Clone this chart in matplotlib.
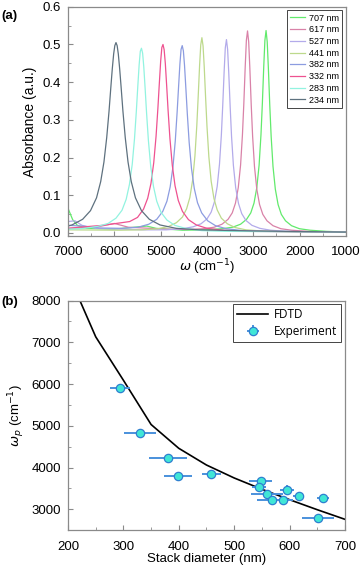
import numpy as np
import matplotlib
matplotlib.use('Agg')
import matplotlib.pyplot as plt
from matplotlib.ticker import MultipleLocator

# (a) absorbance spectra, wavenumber (cm-1) / absorbance
labels = ['707 nm', '617 nm', '527 nm', '441 nm', '382 nm', '332 nm', '283 nm', '234 nm']
colors = ['#62ea6c', '#d982a8', '#b3abea', '#bdd98c', '#8c9ce0', '#ee5290', '#92f3e0', '#5e717f']

w707 = [7000, 6900, 6800, 6600, 6000, 5300, 5100,
        4525, 4025, 3675, 3445, 3275, 3145, 3055, 2985, 2925, 2875, 2835, 2805, 2775, 2750,
        2725, 2700, 2675, 2645, 2615, 2575, 2525, 2465, 2395, 2305, 2175, 2005, 1775, 1425, 1000]
a707 = [0.065, 0.035, 0.020, 0.012, 0.010, 0.018, 0.012,
        0.007, 0.008, 0.011, 0.015, 0.023, 0.036, 0.053, 0.079, 0.120, 0.180, 0.260, 0.343, 0.441, 0.511,
        0.537, 0.507, 0.437, 0.339, 0.256, 0.176, 0.116, 0.075, 0.049, 0.032, 0.019, 0.011, 0.007, 0.004, 0.002]

w617 = [7000, 6400, 6000, 5700,
        4925, 4425, 4075, 3845, 3675, 3545, 3455, 3385, 3325, 3275, 3235, 3205, 3175, 3150,
        3125, 3100, 3075, 3045, 3015, 2975, 2925, 2865, 2795, 2705, 2575, 2405, 2175, 1825, 1325, 1000]
a617 = [0.012, 0.015, 0.025, 0.015,
        0.010, 0.009, 0.011, 0.015, 0.023, 0.036, 0.053, 0.079, 0.120, 0.180, 0.260, 0.343, 0.441, 0.511,
        0.536, 0.507, 0.437, 0.339, 0.256, 0.176, 0.116, 0.075, 0.049, 0.032, 0.019, 0.011, 0.007, 0.004, 0.002, 0.002]

w527 = [7000, 6850, 6700, 6400,
        5380, 4880, 4530, 4300, 4130, 4000, 3910, 3840, 3780, 3730, 3690, 3660, 3630, 3605,
        3580, 3555, 3530, 3500, 3470, 3430, 3380, 3320, 3250, 3160, 3030, 2860, 2630, 2280, 1780, 1000]
a527 = [0.030, 0.032, 0.020, 0.012,
        0.008, 0.008, 0.011, 0.016, 0.024, 0.037, 0.055, 0.082, 0.123, 0.183, 0.260, 0.339, 0.428, 0.491,
        0.513, 0.487, 0.424, 0.335, 0.256, 0.179, 0.119, 0.078, 0.051, 0.033, 0.020, 0.012, 0.007, 0.004, 0.002, 0.002]

w441 = [7000,
        5910, 5410, 5060, 4830, 4660, 4530, 4440, 4370, 4310, 4260, 4220, 4190, 4160, 4135,
        4110, 4085, 4060, 4030, 4000, 3960, 3910, 3850, 3780, 3690, 3560, 3390, 3160, 2810, 2310, 1000]
a441 = [0.008,
        0.007, 0.008, 0.011, 0.017, 0.027, 0.042, 0.064, 0.094, 0.140, 0.205, 0.285, 0.362, 0.444, 0.499,
        0.518, 0.496, 0.441, 0.359, 0.282, 0.202, 0.137, 0.091, 0.061, 0.039, 0.024, 0.014, 0.008, 0.005, 0.003, 0.002]

w382 = [7000, 6700,
        6335, 5835, 5485, 5255, 5085, 4955, 4865, 4795, 4735, 4685, 4645, 4615, 4585, 4560,
        4535, 4510, 4485, 4455, 4425, 4385, 4335, 4275, 4205, 4115, 3985, 3815, 3585, 3235, 2735, 1000]
a382 = [0.020, 0.018,
        0.013, 0.012, 0.015, 0.023, 0.036, 0.057, 0.084, 0.122, 0.175, 0.244, 0.320, 0.385, 0.448, 0.487,
        0.497, 0.483, 0.444, 0.381, 0.316, 0.240, 0.171, 0.118, 0.080, 0.053, 0.032, 0.019, 0.011, 0.006, 0.004, 0.002]

w332 = [7000,
        6750, 6250, 5900, 5670, 5500, 5370, 5280, 5210, 5150, 5100, 5060, 5030, 5000, 4975,
        4950, 4925, 4900, 4870, 4840, 4800, 4750, 4690, 4620, 4530, 4400, 4230, 4000, 3650, 3150, 1000]
a332 = [0.012,
        0.015, 0.020, 0.026, 0.030, 0.041, 0.063, 0.092, 0.131, 0.186, 0.256, 0.331, 0.395, 0.456, 0.492,
        0.500, 0.486, 0.450, 0.389, 0.325, 0.250, 0.180, 0.125, 0.086, 0.057, 0.035, 0.021, 0.012, 0.007, 0.004, 0.002]

w283 = [7000, 6715, 6365, 6135, 5965, 5835, 5745, 5675, 5615, 5565, 5525, 5495, 5465, 5440,
        5415, 5390, 5365, 5335, 5305, 5265, 5215, 5155, 5085, 4995, 4865, 4695, 4465, 4115, 3615, 1000]
a283 = [0.010, 0.011, 0.017, 0.025, 0.039, 0.060, 0.089, 0.128, 0.181, 0.250, 0.324, 0.387, 0.446, 0.482,
        0.490, 0.477, 0.441, 0.382, 0.319, 0.245, 0.176, 0.123, 0.084, 0.055, 0.034, 0.020, 0.012, 0.006, 0.004, 0.002]

w234 = [7000, 6915, 6685, 6515, 6385, 6295, 6225, 6165, 6115, 6075, 6045, 6015, 5990,
        5965, 5940, 5915, 5885, 5855, 5815, 5765, 5705, 5635, 5545, 5415, 5245, 5015, 4665, 4165, 3000, 1000]
a234 = [0.018, 0.021, 0.036, 0.059, 0.093, 0.136, 0.188, 0.253, 0.323, 0.388, 0.435, 0.475, 0.497,
        0.505, 0.497, 0.475, 0.435, 0.388, 0.323, 0.253, 0.188, 0.136, 0.093, 0.059, 0.036, 0.021, 0.012, 0.008, 0.005, 0.002]

spectra = [(w707, a707), (w617, a617), (w527, a527), (w441, a441),
           (w382, a382), (w332, a332), (w283, a283), (w234, a234)]

# (b) plasmon frequency vs stack diameter
fdtd_d = [200, 250, 300, 350, 400, 450, 500, 550, 600, 650, 700]
fdtd_w = [8650, 7130, 6090, 5030, 4460, 4060, 3750, 3480, 3230, 2990, 2760]

exp_d = [294, 330, 380, 399, 459, 548, 545, 560, 568, 589, 596, 617, 661, 651]
exp_w = [5914, 4835, 4235, 3796, 3851, 3683, 3540, 3364, 3220, 3220, 3460, 3317, 3260, 2789]
exp_dx = [18, 29, 34, 25, 17, 21, 13, 29, 26, 18, 13, 10, 11, 29]
exp_dy = [0, 0, 0, 0, 0, 0, 0, 0, 0, 0, 110, 0, 60, 60]

plt.rcParams['font.family'] = ['Liberation Sans', 'DejaVu Sans']
plt.rcParams['mathtext.fontset'] = 'dejavusans'

fig = plt.figure(figsize=(3.6, 5.67), dpi=100)
ax1 = fig.add_axes([0.189, 0.584, 0.772, 0.404])
ax2 = fig.add_axes([0.189, 0.065, 0.769, 0.405])

spine_c = '#8a8a8a'
for ax in (ax1, ax2):
    for s in ax.spines.values():
        s.set_color(spine_c)
        s.set_linewidth(0.9)
    ax.tick_params(which='both', direction='in', color=spine_c, labelsize=9.5,
                   top=False, right=False)
    ax.tick_params(axis='y', which='both', pad=5)
    ax.tick_params(which='major', length=3.5)
    ax.tick_params(which='minor', length=2)
ax1.tick_params(axis='x', which='both', pad=7)
ax2.tick_params(axis='x', which='both', pad=8)

for (w, a), c, lab in zip(spectra, colors, labels):
    ax1.plot(w, a, color=c, lw=0.9, label=lab)

ax1.set_xlim(7000, 1000)
ax1.set_ylim(-0.008, 0.6)
ax1.xaxis.set_major_locator(MultipleLocator(1000))
ax1.xaxis.set_minor_locator(MultipleLocator(500))
ax1.yaxis.set_major_locator(MultipleLocator(0.1))
ax1.yaxis.set_minor_locator(MultipleLocator(0.05))
ax1.yaxis.set_major_formatter(plt.FormatStrFormatter('%.1f'))
ax1.set_ylabel('Absorbance (a.u.)', fontsize=10, labelpad=4)
ax1.set_xlabel(r'$\omega$ (cm$^{-1}$)', fontsize=9.5, labelpad=0)
leg1 = ax1.legend(loc='upper right', fontsize=6.5, handlelength=1.6, handletextpad=0.5,
                  labelspacing=0.3, borderpad=0.35, fancybox=False, framealpha=1,
                  borderaxespad=0.4)
leg1.get_frame().set_edgecolor('#444444')
leg1.get_frame().set_linewidth(0.7)

ax2.plot(fdtd_d, fdtd_w, color='black', lw=1.2, label='FDTD')
ax2.errorbar(exp_d, exp_w, xerr=exp_dx, yerr=exp_dy, fmt='o', ms=6, mfc='#40e6d6',
             mec='#2f7fd0', mew=0.9, ecolor='#4a90dc', elinewidth=1.4, capsize=0,
             label='Experiment')
ax2.set_xlim(200, 700)
ax2.set_ylim(2500, 8000)
ax2.xaxis.set_major_locator(MultipleLocator(100))
ax2.xaxis.set_minor_locator(MultipleLocator(50))
ax2.yaxis.set_major_locator(MultipleLocator(1000))
ax2.yaxis.set_minor_locator(MultipleLocator(500))
ax2.set_xlabel('Stack diameter (nm)', fontsize=9.5, labelpad=0)
ax2.set_ylabel(r'$\omega_p$ (cm$^{-1}$)', fontsize=9.5, labelpad=3)
leg2 = ax2.legend(loc='upper right', handlelength=2.6, handletextpad=0.5,
                  labelspacing=0.3, borderpad=0.35, fancybox=False, framealpha=1,
                  borderaxespad=0.3, prop={'family': 'Open Sans', 'size': 8.5})
leg2.get_frame().set_edgecolor('#444444')
leg2.get_frame().set_linewidth(0.7)

fig.text(0.005, 0.983, '(a)', fontsize=9.5, fontweight='bold', va='top')
fig.text(0.005, 0.478, '(b)', fontsize=9.5, fontweight='bold', va='top')

fig.savefig('out.png', dpi=100)
